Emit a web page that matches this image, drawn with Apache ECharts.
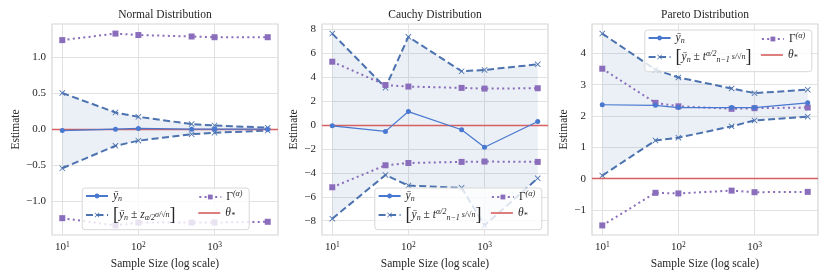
<!DOCTYPE html>
<html><head><meta charset="utf-8">
<script src="https://cdn.jsdelivr.net/npm/echarts@6/dist/echarts.min.js"></script>
<style>html,body{margin:0;padding:0;background:#fff}#c{width:830px;height:277px}</style>
</head><body><div id="c"></div>
<script>
// ---------- DATA ----------
const sampleSizes = [10, 50, 100, 500, 1000, 5000];
const panelTitles = ['Normal Distribution', 'Cauchy Distribution', 'Pareto Distribution'];
const thetaStar = [0, 0, 0];

const normalMean = [-0.02, 0.00, 0.01, 0.00, 0.00, 0.00];
const normalUpper = [0.50, 0.23, 0.17, 0.07, 0.05, 0.02];
const normalLower = [-0.54, -0.23, -0.16, -0.07, -0.05, -0.02];
const normalGammaUpper = [1.23, 1.32, 1.30, 1.28, 1.27, 1.27];
const normalGammaLower = [-1.23, -1.33, -1.29, -1.29, -1.29, -1.28];

const cauchyMean = [-0.06, -0.53, 1.13, -0.39, -1.86, 0.30];
const cauchyUpper = [7.65, 3.13, 7.38, 4.50, 4.61, 5.08];
const cauchyLower = [-7.83, -4.17, -5.06, -5.25, -8.39, -4.45];
const cauchyGammaUpper = [5.30, 3.35, 3.22, 3.11, 3.05, 3.08];
const cauchyGammaLower = [-5.20, -3.36, -3.17, -3.08, -3.05, -3.08];

const paretoMean = [2.36, 2.34, 2.27, 2.27, 2.27, 2.42];
const paretoUpper = [4.63, 3.48, 3.23, 2.88, 2.73, 2.84];
const paretoLower = [0.10, 1.22, 1.31, 1.67, 1.86, 1.98];
const paretoGammaUpper = [3.51, 2.42, 2.31, 2.23, 2.25, 2.27];
const paretoGammaLower = [-1.49, -0.45, -0.47, -0.38, -0.43, -0.42];

const xTickValues = [10, 100, 1000];
const normalYTicks = [-1.0, -0.5, 0.0, 0.5, 1.0];
const cauchyYTicks = [-8, -6, -4, -2, 0, 2, 4, 6, 8];
const paretoYTicks = [-1, 0, 1, 2, 3, 4];

// ---------- STYLE ----------
const FONT = 'Liberation Serif';
const TXT = '#262626';
const C_MEAN = '#4878d0';
const C_CI = '#4c72b0';
const C_GAMMA = '#8a6dbb';
const C_THETA = '#d65f5f';
const GRIDC = '#e2e2e2';
const XSYM = 'path://M1,0 L5,4 L9,0 L10,1 L6,5 L10,9 L9,10 L5,6 L1,10 L0,9 L4,5 L0,1 Z';

const panels = [
  {mean: normalMean, up: normalUpper, lo: normalLower, gu: normalGammaUpper, gl: normalGammaLower, ticks: normalYTicks, dec: 1, ci: 'ci_z'},
  {mean: cauchyMean, up: cauchyUpper, lo: cauchyLower, gu: cauchyGammaUpper, gl: cauchyGammaLower, ticks: cauchyYTicks, dec: 0, ci: 'ci_t'},
  {mean: paretoMean, up: paretoUpper, lo: paretoLower, gu: paretoGammaUpper, gl: paretoGammaLower, ticks: paretoYTicks, dec: 0, ci: 'ci_t'}
];
const layout = [
  {left: 52, nameGap: 30, titleX: 165, leg: [85, 198.3], legTop: 190, box: [81.7, 187.5]},
  {left: 322, nameGap: 22, titleX: 435, leg: [377.6, 490.9], legTop: 190, box: [374.3, 187.5]},
  {left: 592, nameGap: 21, titleX: 705, leg: [647.6, 760.9], legTop: 32, box: [644.3, 29.5]}
];

// matplotlib-like 5% margins
const lx = sampleSizes.map(Math.log10);
const lspan = Math.max(...lx) - Math.min(...lx);
const xMin = Math.pow(10, Math.min(...lx) - 0.05 * lspan);
const xMax = Math.pow(10, Math.max(...lx) + 0.05 * lspan);

const rich = {
  it: {fontFamily: FONT, fontStyle: 'italic', fontSize: 11.5, lineHeight: 14, color: TXT},
  rm: {fontFamily: FONT, fontSize: 11.5, lineHeight: 14, color: TXT},
  sub: {fontFamily: FONT, fontStyle: 'italic', fontSize: 8, lineHeight: 8, verticalAlign: 'bottom', color: TXT},
  sup: {fontFamily: FONT, fontStyle: 'italic', fontSize: 8, lineHeight: 8, verticalAlign: 'top', color: TXT},
  br: {fontFamily: FONT, fontSize: 18, lineHeight: 14, color: TXT},
  fr: {fontFamily: FONT, fontStyle: 'italic', fontSize: 8, lineHeight: 14, color: TXT}
};
const labels = {
  ybar: '{it|\u0233}{sub|n}',
  ci_z: '{br|[}{it|\u0233}{sub|n}{rm| \u00b1 }{it|z}{sub|\u03b1/2}{fr|\u03c3/\u221an}{br|]}',
  ci_t: '{br|[}{it|\u0233}{sub|n}{rm| \u00b1 }{it|t}{sup|\u03b1/2}{sub|n\u22121}{fr| s/\u221an}{br|]}',
  gamma: '{rm|\u0393}{sup|(\u03b1)}',
  theta: '{it|\u03b8}{sub|*}'
};

const grids = [], xAxes = [], yAxes = [], series = [], titles = [], legends = [], graphics = [];
const H = 211, W = 226, TOP = 24;

panels.forEach((p, i) => {
  const L = layout[i];
  grids.push({left: L.left, top: TOP, width: W, height: H, show: true, borderColor: '#d6d6d6', borderWidth: 1.2, containLabel: false});
  const all = [].concat(p.mean, p.up, p.lo, p.gu, p.gl, [thetaStar[i]]);
  const mn = Math.min(...all), mx = Math.max(...all), sp = mx - mn;
  xAxes.push({
    type: 'log', logBase: 10, gridIndex: i, min: xMin, max: xMax,
    axisLine: {show: false},
    axisTick: {show: false, customValues: xTickValues},
    axisLabel: {
      customValues: xTickValues, margin: 6,
      formatter: v => '{b|10}{s|' + Math.round(Math.log10(v)) + '}',
      rich: {
        b: {fontFamily: FONT, fontSize: 11, color: TXT, lineHeight: 13},
        s: {fontFamily: FONT, fontSize: 7.5, color: TXT, lineHeight: 8, verticalAlign: 'top'}
      }
    },
    splitLine: {show: true, lineStyle: {color: GRIDC, width: 1}},
    name: 'Sample Size (log scale)', nameLocation: 'middle', nameGap: 17,
    nameTextStyle: {fontFamily: FONT, fontSize: 11.5, color: TXT}
  });
  yAxes.push({
    type: 'value', gridIndex: i, min: mn - 0.05 * sp, max: mx + 0.05 * sp,
    axisLine: {show: false},
    axisTick: {show: false, customValues: p.ticks},
    axisLabel: {
      customValues: p.ticks, margin: 6,
      fontFamily: FONT, fontSize: 11, color: TXT,
      formatter: v => v.toFixed(p.dec).replace('-', '\u2212')
    },
    splitLine: {show: true, lineStyle: {color: GRIDC, width: 1}},
    name: 'Estimate', nameLocation: 'middle', nameRotate: 90, nameGap: L.nameGap,
    nameTextStyle: {fontFamily: FONT, fontSize: 11.5, color: TXT}
  });
  titles.push({text: panelTitles[i], left: L.titleX, top: 9, textAlign: 'center', padding: 0,
    textStyle: {fontFamily: FONT, fontSize: 11.5, fontWeight: 'normal', color: TXT}});

  // CI band
  series.push({
    type: 'custom', name: 'band', xAxisIndex: i, yAxisIndex: i, silent: true, z: 1,
    data: sampleSizes.map((x, k) => [x, p.up[k], p.lo[k]]),
    encode: {x: 0, y: [1, 2]},
    renderItem: (params, api) => {
      if (params.dataIndex !== 0) return null;
      const pts = [];
      for (let k = 0; k < sampleSizes.length; k++) pts.push(api.coord([sampleSizes[k], p.up[k]]));
      for (let k = sampleSizes.length - 1; k >= 0; k--) pts.push(api.coord([sampleSizes[k], p.lo[k]]));
      return {type: 'polygon', shape: {points: pts}, style: {fill: 'rgba(76,114,176,0.11)'}};
    }
  });
  // theta line
  series.push({
    type: 'line', name: 'theta', xAxisIndex: i, yAxisIndex: i, data: [], symbol: 'none', z: 3,
    color: C_THETA, lineStyle: {color: C_THETA, width: 1.4},
    markLine: {silent: true, symbol: 'none', label: {show: false}, animation: false,
      lineStyle: {color: C_THETA, width: 1.4, type: 'solid'}, data: [{yAxis: thetaStar[i]}]}
  });
  const mk = (name, arr, extra) => Object.assign({
    type: 'line', name, xAxisIndex: i, yAxisIndex: i, animation: false,
    data: sampleSizes.map((x, k) => [x, arr[k]])
  }, extra);
  series.push(mk('ybar', p.mean, {color: C_MEAN, symbol: 'circle', symbolSize: 5, z: 5,
    lineStyle: {color: C_MEAN, width: 1.2}, itemStyle: {color: C_MEAN}}));
  [p.up, p.lo].forEach(arr => series.push(mk(p.ci, arr, {color: C_CI, symbol: XSYM, symbolSize: 6, z: 4,
    lineStyle: {color: C_CI, width: 2, type: [7, 3.5]}, itemStyle: {color: C_CI}})));
  [p.gu, p.gl].forEach(arr => series.push(mk('gamma', arr, {color: C_GAMMA, symbol: 'rect', symbolSize: 6, z: 4,
    lineStyle: {color: C_GAMMA, width: 2, type: [2, 3.3]}, itemStyle: {color: C_GAMMA}})));

  const legBase = {orient: 'vertical', top: L.legTop, padding: 0, itemGap: 3, itemWidth: 22, itemHeight: 6,
    selectedMode: false, z: 50, textStyle: {fontFamily: FONT, fontSize: 11, color: TXT, rich: rich},
    formatter: n => labels[n]};
  legends.push(Object.assign({}, legBase, {left: L.leg[0], data: ['ybar', p.ci]}));
  legends.push(Object.assign({}, legBase, {left: L.leg[1], data: ['gamma']}));
  legends.push(Object.assign({}, legBase, {left: L.leg[1], top: L.legTop + 17, itemHeight: 1.6,
    data: [{name: 'theta', icon: 'rect'}], itemStyle: {color: C_THETA}}));
  graphics.push({type: 'rect', left: L.box[0], top: L.box[1], z: 40, silent: true,
    shape: {width: 167, height: 41.7, r: 3},
    style: {fill: 'rgba(255,255,255,0.8)', stroke: '#d8d8d8', lineWidth: 1}});
});

const chart = echarts.init(document.getElementById('c'), null, {renderer: 'canvas'});
chart.setOption({
  animation: false,
  backgroundColor: '#ffffff',
  title: titles, grid: grids, xAxis: xAxes, yAxis: yAxes,
  legend: legends, series: series, graphic: graphics
});
</script></body></html>
